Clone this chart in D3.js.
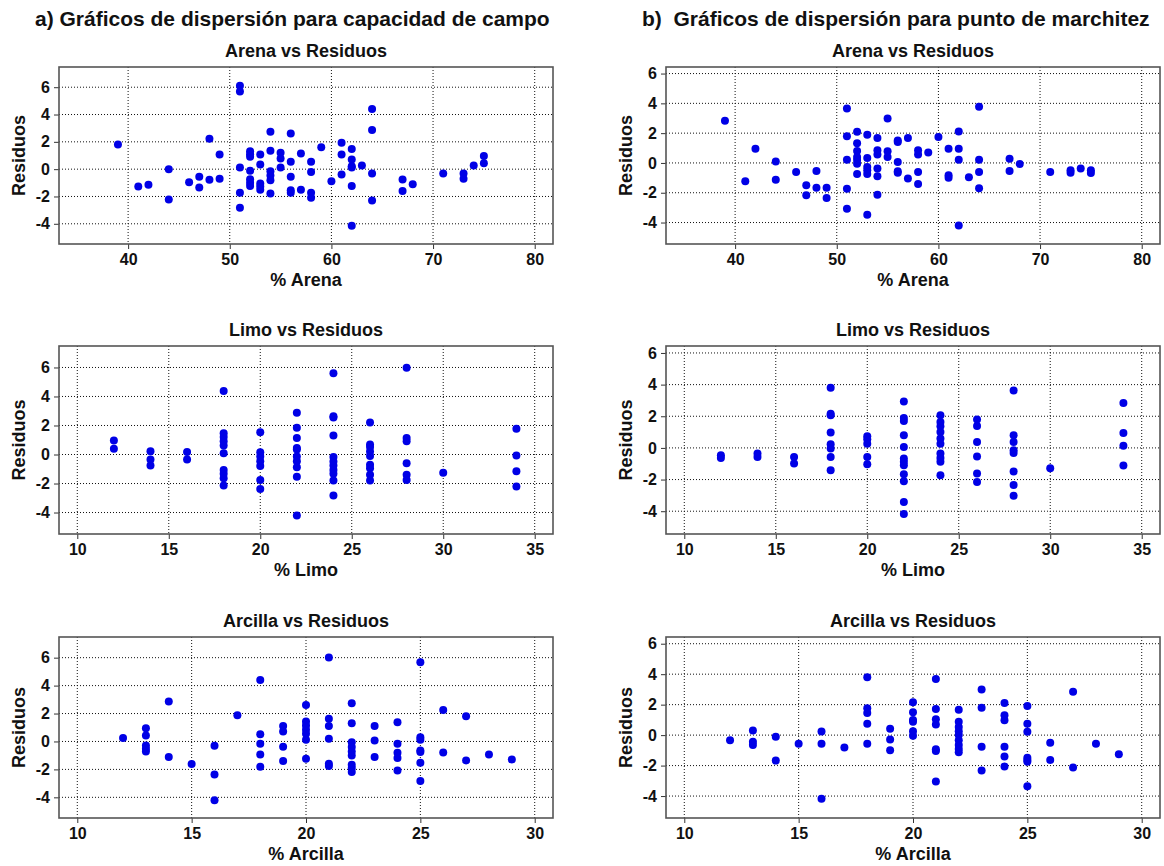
<!DOCTYPE html>
<html>
<head>
<meta charset="utf-8">
<script src="https://cdn.jsdelivr.net/npm/d3@7"></script>
<style>
  body { margin: 0; background: #fff; }
  text { font-family: "Liberation Sans", Arial, sans-serif; font-weight: bold; fill: #111; }
</style>
</head>
<body>
<script>
// residuos vs % de textura, capacidad de campo (CC) y punto de marchitez (PMP)
const arenaCC = [[39,1.8],[41,-1.27],[42,-1.15],[44,0],[44,-2.23],[46,-0.96],[47,-0.56],[47,-1.35],
  [48,2.23],[48,-0.78],[49,1.08],[49,-0.71],[51,6.1],[51,5.69],[51,0.12],[51,-1.72],[51,-2.82],
  [52,1.32],[52,1.1],[52,0.9],[52,-0.12],[52,-0.74],[52,-1.0],[52,-1.23],
  [53,1.08],[53,0.34],[53,-1.05],[53,-1.27],[53,-1.5],
  [54,2.74],[54,1.35],[54,-0.15],[54,-0.47],[54,-0.81],[54,-1.79],
  [55,1.2],[55,0.78],[55,0.12],[56,2.62],[56,0.54],[56,-0.56],[56,-1.54],[56,-1.72],
  [57,1.15],[57,-1.5],[58,0.54],[58,-0.2],[58,-1.72],[58,-2.1],[59,1.6],[60,-0.88],
  [61,1.94],[61,1.08],[61,-0.39],[62,1.47],[62,0.71],[62,0.22],[62,0.12],[62,-1.23],[62,-4.15],
  [63,0.27],[64,4.41],[64,2.87],[64,-0.32],[64,-2.3],[67,-0.76],[67,-1.6],[68,-1.1],
  [71,-0.32],[73,-0.32],[73,-0.71],[74,0.27],[75,0.96],[75,0.44]];

const limoCC = [[12,0.97],[12,0.39],[14,0.23],[14,-0.34],[14,-0.76],[16,0.18],[16,-0.34],
  [18,4.37],[18,1.47],[18,1.2],[18,0.92],[18,0.62],[18,0.09],[18,-1.06],[18,-1.33],[18,-1.63],[18,-2.14],
  [20,1.54],[20,0.16],[20,-0.14],[20,-0.46],[20,-0.8],[20,-1.75],[20,-2.37],
  [22,2.87],[22,1.84],[22,1.13],[22,0.44],[22,0.34],[22,-0.14],[22,-0.46],[22,-0.87],[22,-1.54],[22,-4.2],
  [24,5.6],[24,2.64],[24,2.55],[24,1.31],[24,-0.18],[24,-0.48],[24,-0.76],[24,-1.06],[24,-1.33],[24,-1.79],[24,-2.83],
  [26,2.2],[26,0.69],[26,0.51],[26,0.2],[26,-0.11],[26,-0.71],[26,-0.94],[26,-1.4],[26,-1.79],
  [28,5.98],[28,1.13],[28,0.92],[28,-0.6],[28,-1.4],[28,-1.75],[30,-1.26],
  [34,1.77],[34,-0.07],[34,-1.15],[34,-2.21]];

const arcillaCC = [[12,0.24],[13,0.95],[13,0.43],[13,-0.29],[13,-0.52],[13,-0.71],[14,2.86],[14,-1.12],
  [15,-1.62],[16,-0.31],[16,-2.36],[16,-4.21],[17,1.88],[18,4.4],[18,0.52],[18,-0.17],[18,-0.93],[18,-1.81],
  [19,1.1],[19,0.71],[19,-0.38],[19,-1.4],[20,2.62],[20,1.43],[20,1.14],[20,0.83],[20,0.55],[20,0.12],[20,-1.24],
  [21,6.02],[21,1.62],[21,1.1],[21,0.19],[21,-1.6],[21,-1.76],
  [22,2.74],[22,1.31],[22,-0.05],[22,-0.4],[22,-0.71],[22,-1.0],[22,-1.67],[22,-1.9],[22,-2.19],
  [23,1.1],[23,0.07],[23,-1.12],[24,1.38],[24,-0.17],[24,-0.81],[24,-1.19],[24,-2.07],
  [25,5.67],[25,0.31],[25,0.12],[25,-0.64],[25,-0.76],[25,-1.52],[25,-2.83],
  [26,2.26],[26,-0.79],[27,1.81],[27,-1.36],[28,-0.93],[29,-1.29]];

const arenaPMP = [[39,2.83],[41,-1.23],[42,0.96],[44,0.09],[44,-1.12],[46,-0.6],[47,-1.5],[47,-2.17],
  [48,-0.54],[48,-1.66],[49,-1.66],[49,-2.35],[51,3.65],[51,1.79],[51,0.22],[51,-1.73],[51,-3.07],
  [52,2.09],[52,1.32],[52,0.81],[52,0.4],[52,0.2],[52,-0.05],[52,-0.74],
  [53,1.9],[53,0.34],[53,-0.27],[53,-0.49],[53,-0.74],[53,-3.48],
  [54,1.68],[54,0.85],[54,0.56],[54,-0.38],[54,-0.9],[54,-2.13],[55,2.98],[55,0.78],[55,0.4],
  [56,1.5],[56,1.41],[56,0.07],[56,-0.56],[56,-0.65],[57,1.68],[57,-1.05],
  [58,0.85],[58,0.56],[58,-0.6],[58,-1.41],[59,0.7],[60,1.75],[61,0.96],[61,-0.83],[61,-1.0],
  [62,2.11],[62,0.96],[62,0.22],[62,-4.19],[63,-0.96],[64,3.77],[64,0.22],[64,-0.6],[64,-1.7],
  [67,0.29],[67,-0.54],[68,-0.07],[71,-0.6],[73,-0.49],[73,-0.65],[74,-0.38],[75,-0.49],[75,-0.67]];

const limoPMP = [[12,-0.46],[12,-0.63],[14,-0.36],[14,-0.57],[16,-0.57],[16,-0.99],
  [18,3.8],[18,2.16],[18,2.06],[18,0.97],[18,0.23],[18,-0.04],[18,-0.57],[18,-1.41],
  [20,0.74],[20,0.55],[20,0.27],[20,-0.57],[20,-1.03],
  [22,2.94],[22,1.89],[22,1.7],[22,0.8],[22,0.06],[22,-0.67],[22,-0.88],[22,-1.09],[22,-1.66],[22,-2.1],[22,-3.42],[22,-4.18],
  [24,2.06],[24,1.64],[24,1.37],[24,1.0],[24,0.59],[24,0.27],[24,-0.36],[24,-0.63],[24,-0.88],[24,-1.72],
  [26,1.8],[26,1.39],[26,0.38],[26,-0.55],[26,-1.62],[26,-2.16],
  [28,3.63],[28,0.8],[28,0.38],[28,-0.15],[28,-0.32],[28,-1.49],[28,-2.35],[28,-3.03],[30,-1.28],
  [34,2.84],[34,0.95],[34,0.13],[34,-1.11]];

const arcillaPMP = [[12,-0.33],[13,0.3],[13,-0.43],[13,-0.65],[14,-0.11],[14,-1.67],[15,-0.56],
  [16,0.24],[16,-0.56],[16,-4.18],[17,-0.82],[18,3.8],[18,1.76],[18,1.45],[18,0.74],[18,-0.56],
  [19,0.41],[19,-0.28],[19,-1.0],[20,2.15],[20,1.5],[20,1.0],[20,0.87],[20,0.26],[20,-0.04],
  [21,3.69],[21,1.71],[21,1.04],[21,0.69],[21,-0.93],[21,-1.04],[21,-3.04],
  [22,1.67],[22,0.87],[22,0.54],[22,0.26],[22,0],[22,-0.33],[22,-0.65],[22,-0.91],[22,-1.13],
  [23,2.99],[23,1.8],[23,-0.76],[23,-2.32],[24,2.1],[24,1.3],[24,0.98],[24,-0.76],[24,-1.41],[24,-2.06],
  [25,1.91],[25,0.74],[25,0.22],[25,-1.48],[25,-1.63],[25,-1.74],[25,-3.36],
  [26,-0.5],[26,-1.63],[27,2.84],[27,-2.13],[28,-0.56],[29,-1.26]];

const ticksArena = [40, 50, 60, 70, 80];
const ticksLimo = [10, 15, 20, 25, 30, 35];
const ticksArcilla = [10, 15, 20, 25, 30];
const ticksRes = [-4, -2, 0, 2, 4, 6];

const titles = ["a) Gráficos de dispersión para capacidad de campo",
                "b)  Gráficos de dispersión para punto de marchitez"];

const W = 1164, H = 866;
const svg = d3.select("body").append("svg")
    .attr("width", W)
    .attr("height", H);

// R style: axis range extended 4% at each side
function rDomain(lo, hi) {
    let d = (hi - lo) * 0.04;
    return [lo - d, hi + d];
}

const cols = [
    { left: 59, right: 553, ylim: [-5, 7], data: [arenaCC, limoCC, arcillaCC], titleX: 35 },
    { left: 666, right: 1160, ylim: [-5, 6], data: [arenaPMP, limoPMP, arcillaPMP], titleX: 642 }
];
const rows = [
    { top: 67, bottom: 244, name: "Arena", xlim: [35, 80], ticks: ticksArena },
    { top: 346, bottom: 534, name: "Limo", xlim: [10, 35], ticks: ticksLimo },
    { top: 637, bottom: 818, name: "Arcilla", xlim: [10, 30], ticks: ticksArcilla }
];

cols.forEach(function (c, ci) {
    svg.append("text")
        .attr("x", c.titleX)
        .attr("y", 26)
        .style("font-size", "21px")
        .style("white-space", "pre")
        .text(titles[ci]);

    rows.forEach(function (r, ri) {
        let x = d3.scaleLinear().domain(rDomain(r.xlim[0], r.xlim[1])).range([c.left, c.right]);
        let y = d3.scaleLinear().domain(rDomain(c.ylim[0], c.ylim[1])).range([r.bottom, r.top]);
        let g = svg.append("g");

        // grid
        g.selectAll(".gx").data(r.ticks).enter().append("line")
            .attr("x1", d => x(d)).attr("x2", d => x(d))
            .attr("y1", r.top).attr("y2", r.bottom)
            .attr("stroke", "#111").attr("stroke-width", 1)
            .attr("stroke-dasharray", "1,2");
        g.selectAll(".gy").data(ticksRes).enter().append("line")
            .attr("x1", c.left).attr("x2", c.right)
            .attr("y1", d => y(d)).attr("y2", d => y(d))
            .attr("stroke", "#111").attr("stroke-width", 1)
            .attr("stroke-dasharray", "1,2");

        // axes (hyphen minus like R)
        let xAxis = d3.axisBottom(x).tickValues(r.ticks).tickFormat(d => String(d)).tickSize(5).tickPadding(5);
        let gx = g.append("g").attr("transform", "translate(0," + r.bottom + ")").call(xAxis);
        let yAxis = d3.axisLeft(y).tickValues(ticksRes).tickFormat(d => String(d)).tickSize(5).tickPadding(4);
        let gy = g.append("g").attr("transform", "translate(" + c.left + ",0)").call(yAxis);
        [gx, gy].forEach(function (a) {
            a.select(".domain").remove();
            a.selectAll("line").attr("stroke", "#333");
            a.selectAll("text").style("font-size", "16px")
                .style("font-family", "'Liberation Sans', Arial, sans-serif")
                .style("font-weight", "bold").attr("fill", "#111");
        });

        // box
        g.append("rect")
            .attr("x", c.left).attr("y", r.top)
            .attr("width", c.right - c.left).attr("height", r.bottom - r.top)
            .attr("fill", "none").attr("stroke", "#555").attr("stroke-width", 1.6);

        // points
        g.selectAll("circle").data(c.data[ri]).enter().append("circle")
            .attr("cx", d => x(d[0]))
            .attr("cy", d => y(d[1]))
            .attr("r", 4)
            .attr("fill", "#0000e6");

        // labels
        g.append("text")
            .attr("x", (c.left + c.right) / 2)
            .attr("y", r.top - 10.5)
            .attr("text-anchor", "middle")
            .style("font-size", "18px")
            .text(r.name + " vs Residuos");
        g.append("text")
            .attr("x", (c.left + c.right) / 2)
            .attr("y", r.bottom + 42)
            .attr("text-anchor", "middle")
            .style("font-size", "18px")
            .text("% " + r.name);
        g.append("text")
            .attr("transform", "translate(" + (c.left - 34) + "," + ((r.top + r.bottom) / 2) + ") rotate(-90)")
            .attr("text-anchor", "middle")
            .style("font-size", "18px")
            .text("Residuos");
    });
});
</script>
</body>
</html>
